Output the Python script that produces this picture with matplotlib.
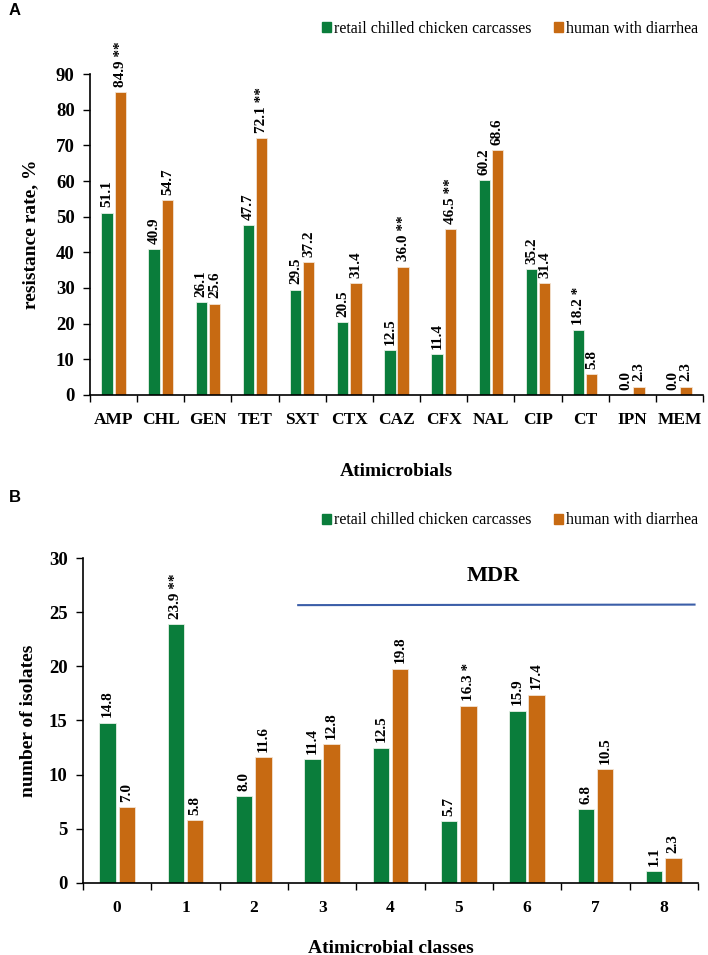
import numpy as np
import matplotlib.pyplot as plt

plt.rcParams["font.family"] = ["Liberation Serif", "DejaVu Serif"]

# panel A data
drugs = ["AMP", "CHL", "GEN", "TET", "SXT", "CTX", "CAZ", "CFX", "NAL", "CIP", "CT", "IPN", "MEM"]
chicken_a = [51.1, 40.9, 26.1, 47.7, 29.5, 20.5, 12.5, 11.4, 60.2, 35.2, 18.2, 0.0, 0.0]
human_a = [84.9, 54.7, 25.6, 72.1, 37.2, 31.4, 36.0, 46.5, 68.6, 31.4, 5.8, 2.3, 2.3]
chicken_a_sig = ["", "", "", "", "", "", "", "", "", "", "*", "", ""]
human_a_sig = ["**", "", "", "**", "", "", "**", "**", "", "", "", "", ""]

# panel B data
classes = ["0", "1", "2", "3", "4", "5", "6", "7", "8"]
chicken_b = [14.8, 23.9, 8.0, 11.4, 12.5, 5.7, 15.9, 6.8, 1.1]
human_b = [7.0, 5.8, 11.6, 12.8, 19.8, 16.3, 17.4, 10.5, 2.3]
chicken_b_sig = ["", "**", "", "", "", "", "", "", ""]
human_b_sig = ["", "", "", "", "", "*", "", "", ""]

series_names = ["retail chilled chicken carcasses", "human with diarrhea"]
green = "#0a7d3b"
orange = "#c76a12"

fig = plt.figure(figsize=(7.08, 9.55), dpi=100)
ax_a = fig.add_axes([0.1271, 0.5864, 0.866, 0.3361])
ax_b = fig.add_axes([0.1172, 0.0754, 0.8686, 0.3403])


def draw_panel(ax, cats, g_vals, o_vals, g_sig, o_sig, ymax, step, offset):
    x = np.arange(len(cats))
    w = 0.24
    ax.bar(x - 0.14, g_vals, w, color=green, edgecolor="#e6f0e6", linewidth=0.6)
    ax.bar(x + 0.14, o_vals, w, color=orange, edgecolor="#f3e3d3", linewidth=0.6)
    for xs, vals, sig in [(x - 0.14, g_vals, g_sig), (x + 0.14, o_vals, o_sig)]:
        for xi, v, s in zip(xs, vals, sig):
            txt = f"{v:.1f}" + (" " + s if s else "")
            ax.text(xi, v + offset, txt, rotation=90, ha="center", va="bottom",
                    fontsize=11, fontweight="bold")
    ax.set_xlim(-0.5, len(cats) - 0.5)
    ax.set_ylim(0, ymax)
    ax.set_yticks(np.arange(0, ymax + 0.1, step))
    ax.set_xticks(np.arange(-0.5, len(cats)), labels=[""] * (len(cats) + 1))
    ax.set_xticks(x, labels=cats, minor=True)
    ax.tick_params(axis="x", which="major", direction="out", length=5, width=1)
    ax.tick_params(axis="x", which="minor", length=0, pad=12, labelsize=12.5)
    ax.tick_params(axis="y", direction="out", length=5, width=1, labelsize=13.5, pad=6)
    for lbl in ax.get_xticklabels(minor=True) + ax.get_yticklabels():
        lbl.set_fontweight("bold")
    for side in ["top", "right"]:
        ax.spines[side].set_visible(False)
    ax.spines["left"].set_linewidth(1.2)
    ax.spines["bottom"].set_linewidth(1.2)


draw_panel(ax_a, drugs, chicken_a, human_a, chicken_a_sig, human_a_sig, 90, 10, 1.5)
draw_panel(ax_b, classes, chicken_b, human_b, chicken_b_sig, human_b_sig, 30, 5, 0.5)

ax_a.set_ylabel("resistance rate, %", fontsize=14, fontweight="bold")
ax_a.set_xlabel("Atimicrobials", fontsize=14, fontweight="bold")
ax_a.yaxis.set_label_coords(-0.082, 0.5)
ax_a.xaxis.set_label_coords(0.5, -0.212)
ax_b.set_ylabel("number of isolates", fontsize=14, fontweight="bold")
ax_b.set_xlabel("Atimicrobial classes", fontsize=14, fontweight="bold")
ax_b.yaxis.set_label_coords(-0.075, 0.5)
ax_b.xaxis.set_label_coords(0.5, -0.175)

# MDR bracket line
ax_b.plot([2.65, 8.45], [25.65, 25.7], color="#3b5ea8", linewidth=1.5, clip_on=False)
ax_b.text(5.5, 28.3, "MDR", ha="center", va="center", fontsize=16, fontweight="bold")

# legends
handles = [plt.Rectangle((0, 0), 1, 1, color=green), plt.Rectangle((0, 0), 1, 1, color=orange)]
for ypos in [0.970, 0.455]:
    fig.legend(handles, series_names, loc="center right", bbox_to_anchor=(1.0, ypos),
               ncol=2, frameon=False, fontsize=11.5, handlelength=0.55, handleheight=0.55,
               handletextpad=0.2, columnspacing=1.4, borderaxespad=0.2)

fig.text(0.012, 0.989, "A", fontsize=12, fontweight="bold", family="Liberation Sans", va="center")
fig.text(0.012, 0.479, "B", fontsize=12, fontweight="bold", family="Liberation Sans", va="center")

fig.savefig("out.png", dpi=100)
